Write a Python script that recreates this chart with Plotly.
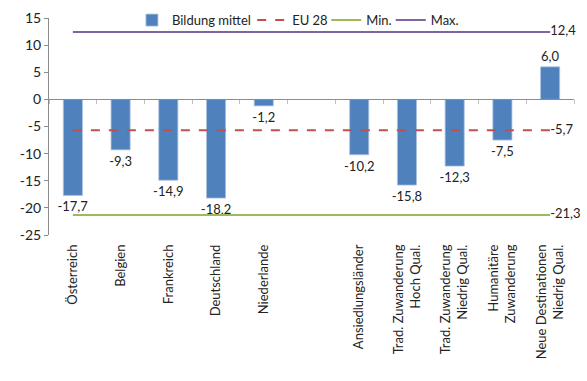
import plotly.graph_objects as go

# Categories (a blank slot separates the countries from the migration groups)
categories = [
    "Österreich", "Belgien", "Frankreich", "Deutschland", "Niederlande", " ",
    "Ansiedlungsländer", "Trad. Zuwanderung<br>Hoch Qual.",
    "Trad. Zuwanderung<br>Niedrig Qual.", "Humanitäre<br>Zuwanderung",
    "Neue Destinationen<br>Niedrig Qual.",
]
bildung_mittel = [-17.7, -9.3, -14.9, -18.2, -1.2, None, -10.2, -15.8, -12.3, -7.5, 6.0]
eu28 = -5.7
min_val = -21.3
max_val = 12.4
y_ticks = [15, 10, 5, 0, -5, -10, -15, -20, -25]

FONT = "Lato"
BLUE = "#4F81BD"
RED = "#C0504D"
GREEN = "#9BBB59"
PURPLE = "#8064A2"
AXIS = "#8C8C8C"


def fmt(v):
    return f"{v:.1f}".replace(".", ",")


def level_trace(name, value, color, dash, legend):
    n = len(categories)
    text = [""] * (n - 1) + [fmt(value)]
    return go.Scatter(
        x=categories, y=[value] * n, name=name, mode="lines+text",
        line=dict(color=color, width=2, dash=dash),
        text=text, textposition="middle right",
        textfont=dict(family=FONT, size=13, color="#222"),
        cliponaxis=False, hoverinfo="skip", legend=legend,
    )


fig = go.Figure()
fig.add_trace(go.Bar(
    x=categories, y=bildung_mittel, name="Bildung mittel",
    marker=dict(color=BLUE, line=dict(color="#A9C2E0", width=0.8)),
    width=0.4,
    text=[fmt(v) if v is not None else "" for v in bildung_mittel],
    textposition="outside", constraintext="none", cliponaxis=False,
    textfont=dict(family=FONT, size=13, color="#222"),
    legend="legend",
))
fig.add_trace(level_trace("EU 28", eu28, RED, "dash", "legend2"))
fig.add_trace(level_trace("Min.", min_val, GREEN, "solid", "legend3"))
fig.add_trace(level_trace("Max.", max_val, PURPLE, "solid", "legend4"))

# Helper trace for the axis drawn through zero
fig.add_trace(go.Scatter(x=categories, y=[None] * len(categories), xaxis="x2",
                         showlegend=False, hoverinfo="skip", mode="markers"))


def legend_box(x):
    return dict(orientation="h", x=x, xanchor="left", y=0.99, yanchor="middle",
                bgcolor="rgba(0,0,0,0)", font=dict(family=FONT, size=13, color="#222"),
                itemwidth=30)


fig.update_layout(
    width=587, height=381,
    margin=dict(l=49, r=13, t=18, b=146, autoexpand=False),
    paper_bgcolor="white", plot_bgcolor="white",
    font=dict(family=FONT, size=13, color="#222"),
    showlegend=True,
    legend=legend_box(0.158),
    legend2=legend_box(0.387),
    legend3=legend_box(0.528),
    legend4=legend_box(0.651),
    xaxis=dict(
        type="category", categoryorder="array", categoryarray=categories,
        range=[-0.5, len(categories) - 0.5],
        tickangle=-90, ticks="", showline=False, showgrid=False,
        ticklabelstandoff=6, automargin=False,
        tickfont=dict(family=FONT, size=13, color="#222"),
    ),
    xaxis2=dict(
        type="category", categoryorder="array", categoryarray=categories,
        range=[-0.5, len(categories) - 0.5], overlaying="x",
        anchor="free", position=25 / 40, side="bottom",
        showticklabels=False, ticks="outside", tickson="boundaries",
        ticklen=4, tickcolor="#BFBFBF", showline=True, linecolor=AXIS,
        showgrid=False,
    ),
    yaxis=dict(
        range=[-25, 15], tickvals=y_ticks, ticktext=[str(v) for v in y_ticks],
        ticks="outside", ticklen=4, tickcolor=AXIS, showline=True,
        linecolor=AXIS, showgrid=False, zeroline=False, automargin=False,
        tickfont=dict(family=FONT, size=14, color="#222"),
    ),
)

fig.write_html("out.html")
